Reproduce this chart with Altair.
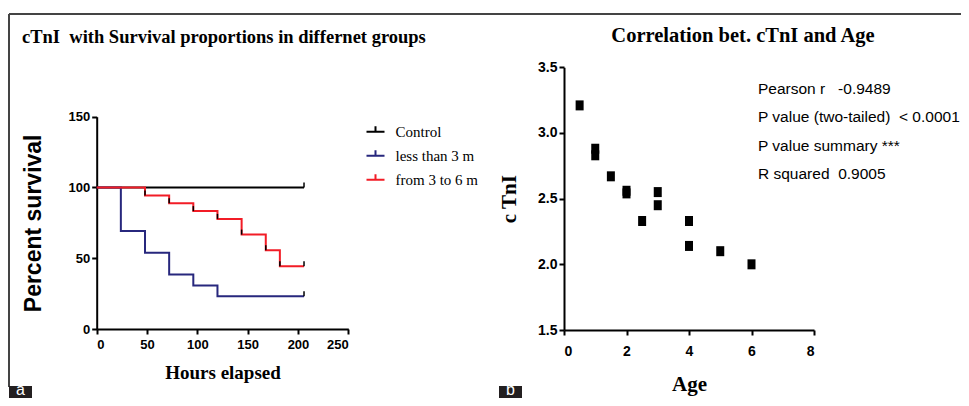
import altair as alt
import pandas as pd

# ---------------- data ----------------
groups = ["Control", "less than 3 m", "from 3 to 6 m"]
group_colors = ["#000000", "#27277d", "#f21c26"]

control_hours = [0, 206]
control_pct = [100, 100]
less3_hours = [0, 24, 48, 72, 96, 120, 206]
less3_pct = [100, 69.2, 53.8, 38.5, 30.8, 23.1, 23.1]
from3to6_hours = [0, 48, 72, 96, 120, 144, 168, 182, 206]
from3to6_pct = [100, 94.4, 88.9, 83.3, 77.8, 66.7, 55.6, 44.4, 44.4]

censor_hours = [206, 206, 206, 48, 72, 96, 120, 144, 168, 182]
censor_pct = [100, 23.1, 44.4, 94.4, 88.9, 83.3, 77.8, 66.7, 55.6, 44.4]

age_years = [0.5, 1, 1, 1.5, 2, 2, 2.5, 3, 3, 4, 4, 5, 6]
ctni_values = [3.21, 2.88, 2.83, 2.67, 2.56, 2.54, 2.33, 2.55, 2.45, 2.33, 2.14, 2.10, 2.00]

hours_ticks = [0, 50, 100, 150, 200, 250]
pct_ticks = [0, 50, 100, 150]
age_ticks = [0, 2, 4, 6, 8]
ctni_ticks = [1.5, 2.0, 2.5, 3.0, 3.5]

NB = "\u00a0"
title_a = "cTnI" + NB + " with Survival proportions in differnet groups"
title_b = "Correlation bet. cTnI and Age"
stats_lines = ["Pearson r" + NB + NB + " -0.9489",
               "P value (two-tailed)" + NB + " < 0.0001",
               "P value summary ***",
               "R squared" + NB + " 0.9005"]

# ---------------- layout (view pixels) ----------------
W, H = 953, 390
LX0, LX1, LY0, LY1 = 88.7, 340.3, 108.7, 321.0
RX0, RX1, RY0, RY1 = 556.0, 806.0, 59.3, 322.0

SERIF = "Liberation Serif"
SANS = "Liberation Sans"

rows = []
for g, hs, ps in [(groups[0], control_hours, control_pct),
                  (groups[1], less3_hours, less3_pct),
                  (groups[2], from3to6_hours, from3to6_pct)]:
    for h, p in zip(hs, ps):
        rows.append({"group": g, "hours": h, "pct": p})
surv_df = pd.DataFrame(rows)
censor_df = pd.DataFrame({"hours": censor_hours, "pct": censor_pct})
scatter_df = pd.DataFrame({"age": age_years, "ctni": ctni_values})
one = pd.DataFrame({"k": [0]})

axis_common = dict(domainColor="black", domainWidth=2, tickColor="black", tickWidth=2,
                   tickSize=5, grid=False, labelColor="black", titleColor="black",
                   labelFontWeight="bold", titleFontWeight="bold")

x_surv = alt.X("hours:Q",
               scale=alt.Scale(domain=[0, 250], range=[LX0, LX1], nice=False),
               axis=alt.Axis(orient="bottom", offset=LY1 - H, values=hours_ticks,
                             title="Hours elapsed", titleFont=SERIF, titleFontSize=19,
                             titlePadding=12, labelFont=SANS, labelFontSize=13,
                             labelPadding=4, **axis_common))
y_surv = alt.Y("pct:Q",
               scale=alt.Scale(domain=[0, 150], range=[LY1, LY0], nice=False),
               axis=alt.Axis(orient="left", offset=-LX0, values=pct_ticks,
                             title="Percent survival", titleFont=SANS, titleFontSize=23,
                             titlePadding=23, labelFont=SANS, labelFontSize=13,
                             labelPadding=2, **axis_common))

lines = alt.Chart(surv_df).mark_line(interpolate="step-after", strokeWidth=2).encode(
    x=x_surv, y=y_surv,
    color=alt.Color("group:N", sort=groups,
                    scale=alt.Scale(domain=groups, range=group_colors),
                    legend=alt.Legend(orient="none", legendX=357.5, legendY=113.7, title=None,
                                      symbolType="M-1,0H1M0,0V-0.6", symbolSize=324,
                                      symbolStrokeWidth=2, labelFont=SERIF, labelFontSize=15,
                                      labelColor="black", labelOffset=10, rowPadding=6,
                                      padding=0)),
)
ticks = alt.Chart(censor_df).mark_point(shape="M0,0V-1", size=100, filled=False,
                                        color="black", strokeWidth=1.5, opacity=1).encode(
    x=x_surv, y=y_surv,
)
survival = alt.layer(lines, ticks)

points = alt.Chart(scatter_df).mark_point(shape="M-0.8,-1H0.8V1H-0.8Z", size=100, filled=True,
                                          color="black", opacity=1).encode(
    x=alt.X("age:Q",
            scale=alt.Scale(domain=[0, 8], range=[RX0, RX1], nice=False),
            axis=alt.Axis(orient="bottom", offset=RY1 - H, values=age_ticks,
                          title="Age", titleFont=SERIF, titleFontSize=21, titlePadding=15,
                          labelFont=SANS, labelFontSize=14, labelPadding=9, **axis_common)),
    y=alt.Y("ctni:Q",
            scale=alt.Scale(domain=[1.5, 3.5], range=[RY1, RY0], nice=False, zero=False),
            axis=alt.Axis(orient="left", offset=-RX0, values=ctni_ticks, format=".1f",
                          title="c TnI", titleFont=SERIF, titleFontSize=21, titlePadding=18,
                          labelFont=SANS, labelFontSize=14, labelPadding=2, **axis_common)),
)

# ---------------- decorations ----------------
t_a = alt.Chart(one).mark_text(text=title_a, font=SERIF, fontSize=18.5, fontWeight="bold",
                               align="left", baseline="alphabetic", color="black").encode(
    x=alt.value(14), y=alt.value(34.5))
t_b = alt.Chart(one).mark_text(text=title_b, font=SERIF, fontSize=20.5, fontWeight="bold",
                               align="center", baseline="alphabetic", color="black").encode(
    x=alt.value(735), y=alt.value(34))
stats = alt.Chart(one).mark_text(text=stats_lines, font=SANS, fontSize=15.5, lineHeight=28.5,
                                 align="left", baseline="alphabetic", color="black").encode(
    x=alt.value(750), y=alt.value(85.5))
top_line = alt.Chart(one).mark_rule(color="#444444", strokeWidth=2).encode(
    x=alt.value(1), x2=alt.value(W), y=alt.value(6))
left_line = alt.Chart(one).mark_rule(color="#444444", strokeWidth=2).encode(
    x=alt.value(1), y=alt.value(6), y2=alt.value(379))
box_a = alt.Chart(one).mark_rect(color="#231f20").encode(
    x=alt.value(1), x2=alt.value(24), y=alt.value(378), y2=alt.value(H))
box_b = alt.Chart(one).mark_rect(color="#231f20").encode(
    x=alt.value(491), x2=alt.value(514), y=alt.value(378), y2=alt.value(H))
lab_a = alt.Chart(one).mark_text(text="a", font=SANS, fontSize=16, color="white",
                                 align="center", baseline="bottom").encode(
    x=alt.value(12.5), y=alt.value(H))
lab_b = alt.Chart(one).mark_text(text="b", font=SANS, fontSize=16, color="white",
                                 align="center", baseline="bottom").encode(
    x=alt.value(502.5), y=alt.value(H))

chart = alt.layer(
    survival, points, t_a, t_b, stats, top_line, left_line, box_a, box_b, lab_a, lab_b
).resolve_scale(x="independent", y="independent").properties(
    width=W, height=H, padding=0, autosize="none", background="white"
).configure_view(stroke=None)

chart.save("out.html", embed_options={"renderer": "svg", "actions": False})
